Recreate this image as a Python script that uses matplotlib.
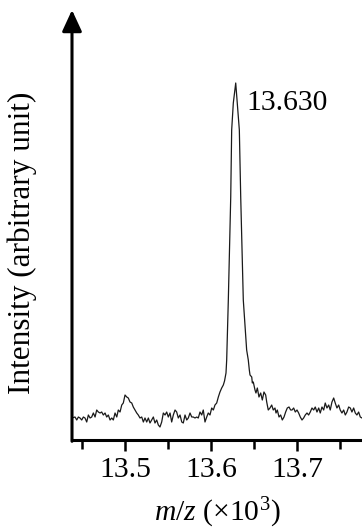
import numpy as np
import matplotlib
matplotlib.use("Agg")
import matplotlib.pyplot as plt
from matplotlib.ticker import FixedLocator

plt.rcParams["font.family"] = ["Liberation Serif", "DejaVu Serif"]
plt.rcParams["mathtext.fontset"] = "custom"
plt.rcParams["mathtext.rm"] = "Liberation Serif"
plt.rcParams["mathtext.it"] = "Liberation Serif:italic"

# spectrum: m/z (x10^3) and intensity (arbitrary)
mz = [
    13.4384, 13.4419, 13.4439, 13.4458, 13.4477, 13.4497, 13.4516, 13.4535, 13.4555, 13.4574,
    13.4594, 13.4613, 13.4632, 13.4652, 13.4671, 13.4690, 13.4710, 13.4729, 13.4748, 13.4768,
    13.4787, 13.4806, 13.4826, 13.4846, 13.4864, 13.4884, 13.4904, 13.4922, 13.4942, 13.4962,
    13.4980, 13.5000, 13.5020, 13.5038, 13.5058, 13.5078, 13.5096, 13.5116, 13.5136, 13.5154,
    13.5174, 13.5194, 13.5213, 13.5232,
    13.5252, 13.5271, 13.5290, 13.5310, 13.5329, 13.5348, 13.5368, 13.5387, 13.5406, 13.5426,
    13.5445, 13.5465, 13.5484, 13.5503, 13.5523, 13.5542, 13.5561, 13.5581, 13.5600, 13.5619,
    13.5639, 13.5659, 13.5677, 13.5697, 13.5717, 13.5735, 13.5755, 13.5775, 13.5793, 13.5813,
    13.5833, 13.5851, 13.5871, 13.5891, 13.5909, 13.5929, 13.5949, 13.5967, 13.5987, 13.6007,
    13.6026, 13.6045, 13.6065, 13.6084, 13.6103, 13.6123, 13.6142, 13.6156, 13.6173, 13.6181,
    13.6200, 13.6214, 13.6228, 13.6239, 13.6258, 13.6286, 13.6304, 13.6328, 13.6344, 13.6359,
    13.6374, 13.6386, 13.6413, 13.6432, 13.6444, 13.6452, 13.6472, 13.6479, 13.6490, 13.6510,
    13.6521, 13.6537, 13.6556, 13.6576, 13.6595, 13.6614, 13.6634, 13.6646, 13.6664, 13.6684,
    13.6704, 13.6722, 13.6742, 13.6754, 13.6769, 13.6789, 13.6808, 13.6827, 13.6847, 13.6866,
    13.6885, 13.6905, 13.6924, 13.6940, 13.6959, 13.6978, 13.6998, 13.7017, 13.7036, 13.7056,
    13.7075, 13.7094, 13.7114, 13.7133, 13.7152, 13.7172, 13.7192, 13.7210, 13.7230, 13.7250,
    13.7268, 13.7288, 13.7308, 13.7326, 13.7346, 13.7366, 13.7384, 13.7404, 13.7424, 13.7442,
    13.7462, 13.7482, 13.7500, 13.7520, 13.7540, 13.7559, 13.7578, 13.7598, 13.7617, 13.7636,
    13.7656, 13.7675, 13.7694, 13.7714, 13.7733, 13.7753,
]
intensity = [
    22, 23, 20, 23, 22, 20, 23, 22, 18, 25,
    22, 23, 27, 23, 30, 28, 27, 28, 25, 27,
    23, 25, 20, 22, 20, 27, 23, 30, 28, 35,
    37, 45, 43, 42, 38, 37, 33, 30, 27, 25,
    22, 23, 18, 22,
    18, 22, 17, 20, 23, 17, 20, 15, 13, 18,
    27, 25, 28, 23, 27, 18, 25, 30, 28, 22,
    25, 18, 17, 25, 20, 22, 27, 23, 23, 22,
    23, 22, 28, 25, 30, 18, 23, 27, 25, 32,
    30, 35, 37, 43, 48, 52, 55, 59, 67, 80,
    140, 190, 243, 310, 337, 357, 337, 310, 243, 190,
    140, 125, 90, 80, 70, 65, 63, 57, 58, 50,
    47, 52, 43, 47, 40, 48, 45, 38, 30, 32,
    35, 30, 32, 27, 30, 23, 25, 20, 23, 28,
    32, 33, 30, 30, 32, 28, 30, 27, 23, 20,
    22, 25, 27, 25, 28, 32, 30, 33, 28, 32,
    27, 33, 30, 37, 32, 35, 30, 38, 42, 37,
    32, 35, 30, 27, 30, 25, 28, 33, 32, 28,
    32, 27, 25, 28, 23, 22,
]
major_ticks = [13.5, 13.6, 13.7]
minor_ticks = [13.45, 13.55, 13.65, 13.75]
peak_label = "13.630"

fig = plt.figure(figsize=(3.62, 5.31), dpi=100)
ax = fig.add_axes([72/362, 91/531, 290/362, 430/531])

ax.plot(mz, intensity, color="#1a1a1a", lw=0.9)
ax.set_xlim(mz[0], mz[-1])
ax.set_ylim(0, 430)

for s in ["top", "right", "left"]:
    ax.spines[s].set_visible(False)
ax.spines["bottom"].set_linewidth(2.2)
# y axis drawn as an arrow
ax.annotate("", xy=(0, 1.0), xytext=(0, -0.003), xycoords="axes fraction",
            arrowprops=dict(arrowstyle="-|>,head_length=0.65,head_width=0.3",
                            mutation_scale=20, color="k", lw=2.2,
                            shrinkA=0, shrinkB=0),
            annotation_clip=False)

ax.set_yticks([])
ax.xaxis.set_major_locator(FixedLocator(major_ticks))
ax.xaxis.set_minor_locator(FixedLocator(minor_ticks))
ax.set_xticklabels([f"{t:.1f}" for t in major_ticks])
ax.tick_params(axis="x", which="major", direction="out", length=8, width=1.8,
               labelsize=21.3, pad=4)
ax.tick_params(axis="x", which="minor", direction="out", length=6.5, width=1.8)

ipk = int(np.argmax(intensity))
ax.text(mz[ipk] + 0.0125, intensity[ipk] - 20, peak_label, fontsize=21.3,
        ha="left", va="center")

fig.text(22/362, 1 - 243/531, "Intensity (arbitrary unit)", rotation=90,
         fontsize=22.5, ha="center", va="center")
fig.text(217/362, 1 - 513/531, r"$m/z$ (×10$^3$)", fontsize=21.3,
         ha="center", va="center")

fig.savefig("out.png", dpi=100)
